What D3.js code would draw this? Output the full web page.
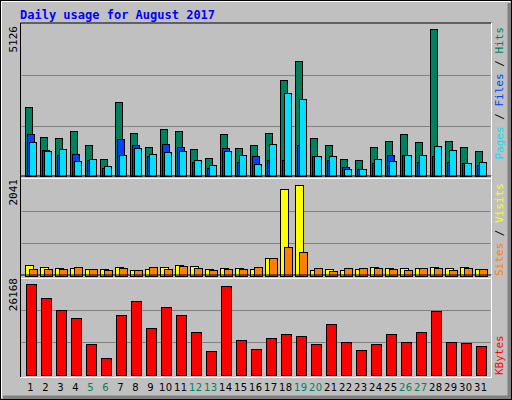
<!DOCTYPE html><html><head><meta charset="utf-8">
<script src="https://cdn.jsdelivr.net/npm/d3@7"></script>
<style>body{margin:0;background:#fff}svg{display:block}</style></head><body>
<script>
const days=d3.range(1,32);
const weekends=[5,6,12,13,19,20,26,27];
const hits=[2346,1326,1292,1530,1054,578,2516,1462,986,1598,1530,918,612,1428,952,1054,1462,3264,3910,1292,1054,578,544,986,1190,1428,1156,4998,1190,986,850];
const files=[1428,884,714,748,544,272,1258,1054,680,1088,986,476,272,952,476,680,544,544,1054,680,544,306,238,442,714,714,476,680,476,442,374];
const pages=[1156,850,918,510,578,340,714,952,748,816,850,544,374,850,714,408,1088,2822,2618,680,680,238,238,578,510,714,714,1020,884,442,476];
const visits=[234,192,172,172,151,151,192,131,151,192,234,213,151,172,172,151,378,1821,1903,131,151,131,151,192,172,172,172,192,172,192,151];
const sites=[151,151,151,192,151,131,172,131,192,151,213,172,131,151,151,192,378,605,502,172,110,172,172,172,151,131,172,172,131,172,151];
const kbytes=[24297,20559,17355,15219,8277,4539,16020,19758,12549,18156,16020,11481,6408,23763,9345,6942,9879,10947,10413,8277,13617,8811,6675,8277,10947,8811,11481,17088,8811,8544,7743];
const maxHits=5126,maxVisits=2041,maxKB=26168;

const svg=d3.select("body").append("svg").attr("width",512).attr("height",400);
svg.append("rect").attr("width",512).attr("height",400).attr("fill","#C0C0C0");
svg.append("path").attr("d","M1.5,398V1.5H510").attr("stroke","#fff").attr("fill","none");
svg.append("path").attr("d","M3,397.5H509.5V3").attr("stroke","#808080").attr("stroke-width",4).attr("fill","none");
svg.append("rect").attr("x",0.5).attr("y",0.5).attr("width",511).attr("height",399).attr("stroke","#000").attr("fill","none");

svg.append("text").attr("x",20).attr("y",19).attr("fill","#0000FF").attr("font-family","DejaVu Sans Mono").attr("font-weight","bold").attr("font-size",12).text("Daily usage for August 2017");

const x=d3.scaleBand().domain(days).range([22,487]).paddingInner(0);
const L=20.5,R=491.5;
function panel(top,bot,max,series,label,atTop){
  const y=d3.scaleLinear().domain([0,max]).range([bot,top]);
  svg.append("path").attr("d",`M${L},${bot+2}V${top-2}H${R}`).attr("stroke","#000").attr("fill","none");
  svg.append("path").attr("d",`M${L},${bot+2.5}H${R}V${top-2}`).attr("stroke","#fff").attr("fill","none");
  [1/3,2/3].forEach(f=>svg.append("line").attr("x1",L+1).attr("x2",R-1).attr("y1",Math.round(y(max*f))+.5).attr("y2",Math.round(y(max*f))+.5).attr("stroke","#808080"));
  series.forEach(s=>{
    svg.append("g").selectAll("rect").data(s.data).join("rect")
      .attr("x",(d,i)=>Math.round(x(days[i]))+3+s.off+.5).attr("width",s.w)
      .attr("y",d=>Math.round(y(d))+.5).attr("height",d=>Math.max(0,bot-Math.round(y(d))))
      .attr("fill",s.c).attr("stroke","#000");
  });
  svg.append("text").attr("transform",`translate(17,${top+1}) rotate(-90)`).attr("text-anchor","end")
    .attr("font-family","DejaVu Sans Mono").attr("font-size",11).text(max);
  const t=svg.append("text").attr("transform",`translate(503,${atTop?top+2:bot}) rotate(-90)`)
    .attr("text-anchor",atTop?"end":"start")
    .attr("font-family","DejaVu Sans Mono").attr("font-size",11);
  label.forEach(p=>t.append("tspan").attr("fill",p[1]).text(p[0]));
}
panel(25,176,maxHits,[{data:hits,c:"#00805C",off:0,w:7},{data:files,c:"#0040FF",off:2,w:7},{data:pages,c:"#00E0FF",off:4,w:7}],
  [["Pages","#00E0FF"],[" / ","#000"],["Files","#0040FF"],[" / ","#000"],["Hits","#00805C"]],true);
panel(178,276,maxVisits,[{data:visits,c:"#FFFF00",off:0,w:8},{data:sites,c:"#FF8000",off:4,w:8}],
  [["Sites","#FF8000"],[" / ","#000"],["Visits","#FFFF00"]],false);
panel(277,375,maxKB,[{data:kbytes,c:"#FF0000",off:1,w:10}],[["KBytes","#FF0000"]],false);

svg.append("g").selectAll("text").data(days).join("text")
  .attr("x",d=>x(d)+x.bandwidth()/2+1).attr("y",391).attr("text-anchor","middle")
  .attr("font-family","DejaVu Sans").attr("font-size",10).attr("textLength",d=>d>9?13:null)
  .attr("fill",d=>weekends.includes(d)?"#00805C":"#000").text(d=>d);
</script></body></html>
